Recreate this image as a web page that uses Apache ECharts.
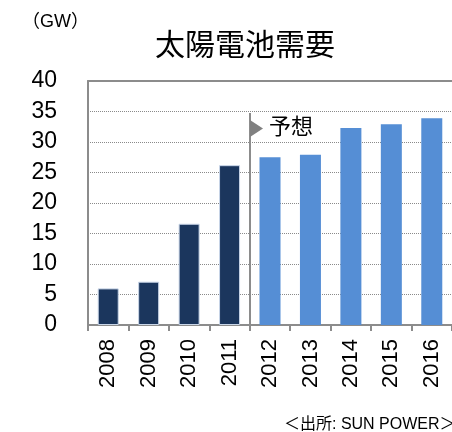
<!DOCTYPE html>
<html>
<head>
<meta charset="utf-8">
<script src="https://cdn.jsdelivr.net/npm/echarts@6/dist/echarts.min.js"></script>
<style>
  html, body { margin: 0; padding: 0; background: #fff; }
  #chart { width: 452px; height: 432px; }
</style>
</head>
<body>
<div id="chart"></div>
<script>
// 太陽電池需要 (GW)
const years = ['2008', '2009', '2010', '2011', '2012', '2013', '2014', '2015', '2016']
const demand = [6.0, 7.1, 16.6, 26.2, 27.5, 27.9, 32.3, 32.9, 33.9]
const actualCount = 4 // 2008-2011 actual, rest forecast
const yTicks = { min: 0, max: 40, interval: 5 }

const FONT = '"Liberation Sans", "Noto Sans CJK JP", sans-serif'
const dark = '#1b365d'
const light = '#558ed5'
const axisGray = '#8c8c8c'

const chart = echarts.init(document.getElementById('chart'))

const option = {
  animation: false,
  textStyle: { fontFamily: FONT },
  title: [
    {
      text: '太陽電池需要',
      left: 240,
      top: 27,
      textAlign: 'center',
      textStyle: { fontSize: 30, fontWeight: 'normal', color: '#000', fontFamily: FONT }
    },
    {
      text: '（GW）',
      left: 17,
      top: 8,
      textStyle: { fontSize: 18, fontWeight: 'normal', color: '#000', fontFamily: FONT }
    },
    {
      text: '＜出所: SUN POWER＞',
      left: 279,
      top: 412,
      textStyle: { fontSize: 16, fontWeight: 'normal', color: '#000', fontFamily: FONT }
    }
  ],
  grid: {
    left: 88,
    right: -2,
    top: 81,
    bottom: 107
  },
  xAxis: [
    {
      type: 'category',
      data: years,
      axisLine: { lineStyle: { color: axisGray, width: 2 } },
      axisTick: { show: true, length: 6, lineStyle: { color: axisGray, width: 2 } },
      axisLabel: { rotate: 90, fontSize: 22, color: '#000', margin: 14, fontFamily: FONT }
    },
    {
      type: 'category',
      data: years,
      position: 'top',
      axisLine: { lineStyle: { color: axisGray, width: 2 } },
      axisTick: { show: false },
      axisLabel: { show: false }
    }
  ],
  yAxis: {
    type: 'value',
    min: yTicks.min,
    max: yTicks.max,
    interval: yTicks.interval,
    axisLine: { show: true, lineStyle: { color: axisGray, width: 2 } },
    axisTick: { show: false },
    axisLabel: { fontSize: 23, color: '#000', margin: 31, fontFamily: FONT },
    splitLine: { lineStyle: { color: '#8a8a8a', type: 'dotted', width: 1 } }
  },
  series: [
    {
      type: 'bar',
      barWidth: 21,
      data: demand.map((v, i) => ({
        value: v,
        itemStyle: {
          color: i < actualCount ? dark : light,
          borderColor: i < actualCount ? '#c9d6e8' : light,
          borderWidth: i < actualCount ? 1 : 0
        }
      }))
    }
  ]
}

chart.setOption(option)

// forecast divider between the last actual year and the first forecast year
const xa = chart.convertToPixel({ xAxisIndex: 0 }, years[actualCount - 1])
const xb = chart.convertToPixel({ xAxisIndex: 0 }, years[actualCount])
const xm = Math.round((xa + xb) / 2)
const yTop = chart.convertToPixel({ yAxisIndex: 0 }, 34.75)
const yBase = chart.convertToPixel({ yAxisIndex: 0 }, 0)

chart.setOption({
  graphic: [
    {
      type: 'line',
      shape: { x1: xm, y1: yTop, x2: xm, y2: yBase },
      style: { stroke: axisGray, lineWidth: 2 },
      z: 10
    },
    {
      type: 'polygon',
      shape: { points: [[xm, yTop + 7], [xm + 13, yTop + 15.5], [xm, yTop + 24]] },
      style: { fill: '#808080' },
      z: 11
    },
    {
      type: 'text',
      x: xm + 19,
      y: yTop + 15,
      style: {
        text: '予想',
        fontSize: 22,
        fill: '#000',
        fontFamily: FONT,
        verticalAlign: 'middle'
      },
      z: 11
    }
  ]
})
</script>
</body>
</html>
